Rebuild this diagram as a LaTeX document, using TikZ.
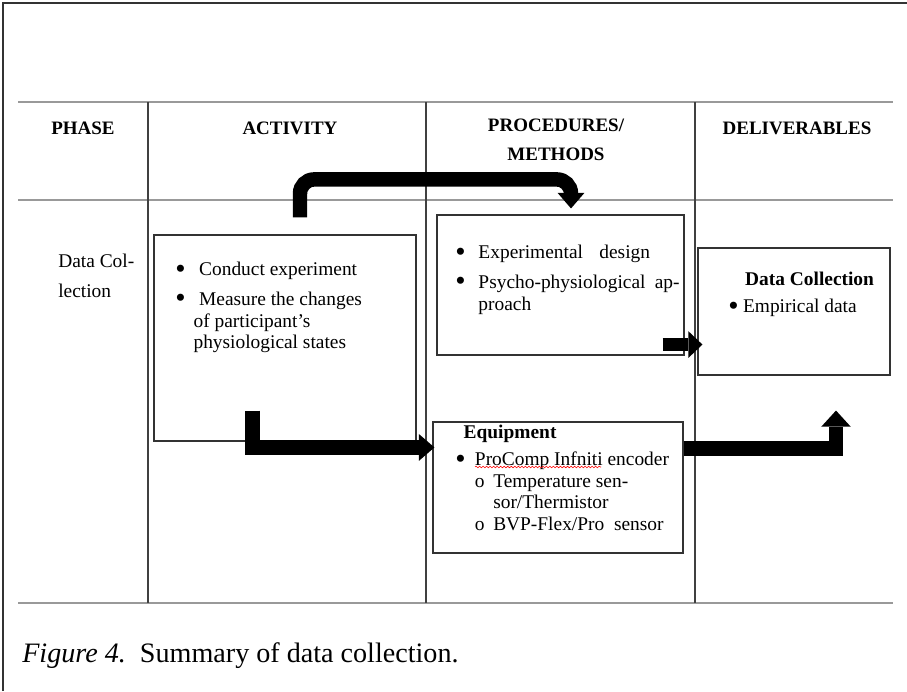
\documentclass[tikz,border=0pt]{standalone}
\usepackage{fontspec}
\setmainfont{Liberation Serif}
\usetikzlibrary{arrows.meta,calc,fit,decorations.pathmorphing}

\newcommand{\blt}{\raisebox{-1.6pt}{\fontsize{21}{15}\selectfont\textbullet}}

\tikzset{
  frame/.style={draw=black!80, line width=1pt},
  rule/.style={draw=black!40, line width=1.6pt},
  col/.style={draw=black!75, line width=0.8pt},
  box/.style={draw=black!80, line width=0.8pt, inner sep=0pt},
  txt/.style={font=\fontsize{13.8}{15.3}\selectfont, inner sep=0pt, align=left},
  head/.style={font=\fontsize{13.5}{17}\selectfont\bfseries, inner sep=0pt, align=center},
  bigarrow/.style={line width=10.3pt, -{Triangle[width=19pt,length=11pt,line width=0pt]}},
  midarrow/.style={line width=9.2pt, -{Triangle[width=19pt,length=10pt,line width=0pt]}},
}

\begin{document}
\begin{tikzpicture}[x=0.025cm, y=-0.025cm]
    \useasboundingbox (0,0) rectangle (907,691);
    % frame and table
    \draw[frame] (3,691) -- (3,3) -- (907,3);
    \foreach \y in {102,200,603} \draw[rule] (18,\y) -- (893,\y);
    \foreach \x in {148,426,695} \draw[col] (\x,102) -- (\x,603);

    % header
    \node[head] (hphase) at (83,128) {PHASE};
    \node[head] (hact) at (290,128) {ACTIVITY};
    \node[head] (hproc) at (556,140) {PROCEDURES/\\[4pt]METHODS};
    \node[head] (hdeliv) at (797,128) {DELIVERABLES};

    % phase
    \node[txt, anchor=north west] (phase) at (58,254) {Data Col-\\[6pt]lection};

    % boxes
    \node[box, fit={(154,235) (416,441)}] (act) {};
    \node[box, fit={(437,215) (684,355)}] (proc) {};
    \node[box, fit={(433,422) (683,553)}] (equip) {};
    \node[box, fit={(698,248) (890,375)}] (deliv) {};

    % box texts
    \node[txt, anchor=north west] (actlist) at (175,262) {%
        \makebox[17pt][l]{\blt}Conduct experiment\\[6pt]
        \makebox[17pt][l]{\blt}Measure the changes\\
        \hspace*{13pt}of participant’s\\
        \hspace*{13pt}physiological states};
    \node[txt, anchor=north west] (proclist) at (455,245) {%
        \makebox[16.5pt][l]{\blt}\makebox[122pt][s]{Experimental design}\\[6pt]
        \makebox[16.5pt][l]{\blt}\makebox[143pt][s]{Psycho-physiological ap-}\\
        \hspace*{16.5pt}proach};
    \node[txt, anchor=north west] (equiplist) at (455,425) {%
        \hspace*{6pt}\textbf{Equipment}\\[4pt]
        \makebox[14pt][l]{\blt}ProComp Infniti encoder\\
        \hspace*{14pt}\makebox[13pt][l]{o}Temperature sen-\\
        \hspace*{27pt}sor/Thermistor\\
        \hspace*{14pt}\makebox[13pt][l]{o}BVP-Flex/Pro\ \ sensor};
    \node[txt, anchor=north west] (delivlist) at (728,272) {%
        \hspace*{12pt}\textbf{Data Collection}\\[4pt]
        \makebox[10.5pt][l]{\blt}Empirical data};
    \draw[red, line width=0.4pt, decorate,
          decoration={snake, amplitude=0.6pt, segment length=2.5pt}] (475,467) -- (601,467);

    % arrows
    \coordinate (a1s) at ($(act.north)+(15,-17)$);
    \coordinate (a1e) at ($(proc.north)+(10.5,-6)$);
    \draw[bigarrow, rounded corners=10pt] (a1s) -- ($(a1s)+(0,-38)$) -| (a1e);
    \coordinate (a2s) at ($(proc.south east)+(-22,-11)$);
    \draw[midarrow] (a2s) -- ($(a2s -| deliv.west)+(5,0)$);
    \coordinate (a3s) at ($(act.south)+(-32.5,-31)$);
    \coordinate (a3e) at ($(equip.north west)+(2,26)$);
    \draw[bigarrow] (a3s) |- (a3e);
    \coordinate (a4s) at ($(equip.north east)+(0,27)$);
    \coordinate (a4e) at ($(deliv.south)+(42,35)$);
    \draw[bigarrow, -{Triangle[width=21pt,length=11.5pt,line width=0pt]}] (a4s) -| (a4e);

    % caption
    \node[anchor=west, inner sep=0pt, font=\fontsize{20}{24}\selectfont] (caption) at (22,656)
        {\textit{Figure 4.}\ \ Summary of data collection.};
\end{tikzpicture}
\end{document}
